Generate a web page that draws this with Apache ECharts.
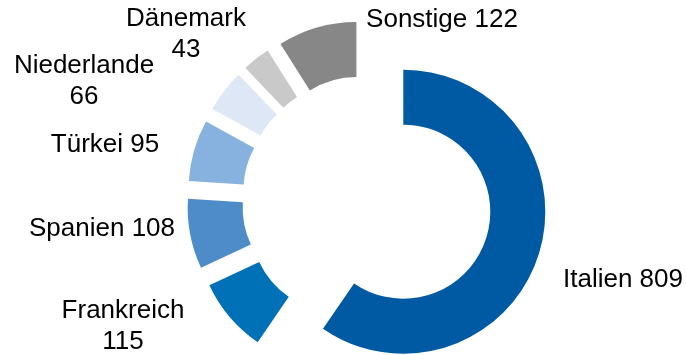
<!DOCTYPE html>
<html>
<head>
<meta charset="utf-8">
<script src="https://cdn.jsdelivr.net/npm/echarts@6/dist/echarts.min.js"></script>
<style>
  html, body { margin: 0; padding: 0; background: #ffffff; }
  #chart { width: 686px; height: 355px; }
</style>
</head>
<body>
<div id="chart"></div>
<script>
// Export volumes by destination country
const countries = ['Italien', 'Frankreich', 'Spanien', 'Türkei', 'Niederlande', 'Dänemark', 'Sonstige'];
const volumes = [809, 115, 108, 95, 66, 43, 122];

// Slice colours, in the same order as the countries
const sliceColors = ['#0059a3', '#0071b7', '#4e8cc9', '#87b2df', '#dde7f6', '#c9c9c9', '#878787'];

// Labels printed on two lines (name above value)
const twoLineLabels = ['Frankreich', 'Niederlande', 'Dänemark'];

// Label anchor points (centre of each text block)
const labelAnchors = [
  [623, 280], [123, 326], [102, 229], [105, 145], [84, 81], [186, 34], [442, 20]
];

const ringCenter = [367, 200.5];
const ringRadius = [87, 142];

const chart = echarts.init(document.getElementById('chart'), null, { renderer: 'canvas' });

chart.setOption({
  animation: false,
  backgroundColor: '#ffffff',
  series: [
    {
      // Exploded doughnut: every slice pushed out from the centre
      type: 'pie',
      center: ringCenter,
      radius: ringRadius,
      startAngle: 90,
      clockwise: true,
      selectedMode: 'multiple',
      selectedOffset: 38,
      emphasis: { disabled: true },
      itemStyle: { borderWidth: 0 },
      label: { show: false },
      labelLine: { show: false },
      data: countries.map((name, i) => ({
        name: name,
        value: volumes[i],
        selected: true,
        itemStyle: { color: sliceColors[i] }
      }))
    },
    {
      // Same slices, invisible, carrying the category labels
      type: 'pie',
      center: ringCenter,
      radius: ringRadius,
      startAngle: 90,
      clockwise: true,
      silent: true,
      avoidLabelOverlap: false,
      emphasis: { disabled: true },
      itemStyle: { color: 'rgba(0,0,0,0)', borderWidth: 0 },
      labelLine: { show: false },
      label: {
        show: true,
        position: 'outside',
        fontFamily: 'Liberation Sans, Arial, sans-serif',
        fontSize: 26,
        lineHeight: 31,
        color: '#000000',
        align: 'center',
        formatter: p => twoLineLabels.includes(p.name) ? p.name + '\n' + p.value : p.name + ' ' + p.value
      },
      labelLayout: p => ({
        x: labelAnchors[p.dataIndex][0],
        y: labelAnchors[p.dataIndex][1],
        align: 'center',
        verticalAlign: 'middle'
      }),
      data: countries.map((name, i) => ({ name: name, value: volumes[i] }))
    }
  ]
});
</script>
</body>
</html>
